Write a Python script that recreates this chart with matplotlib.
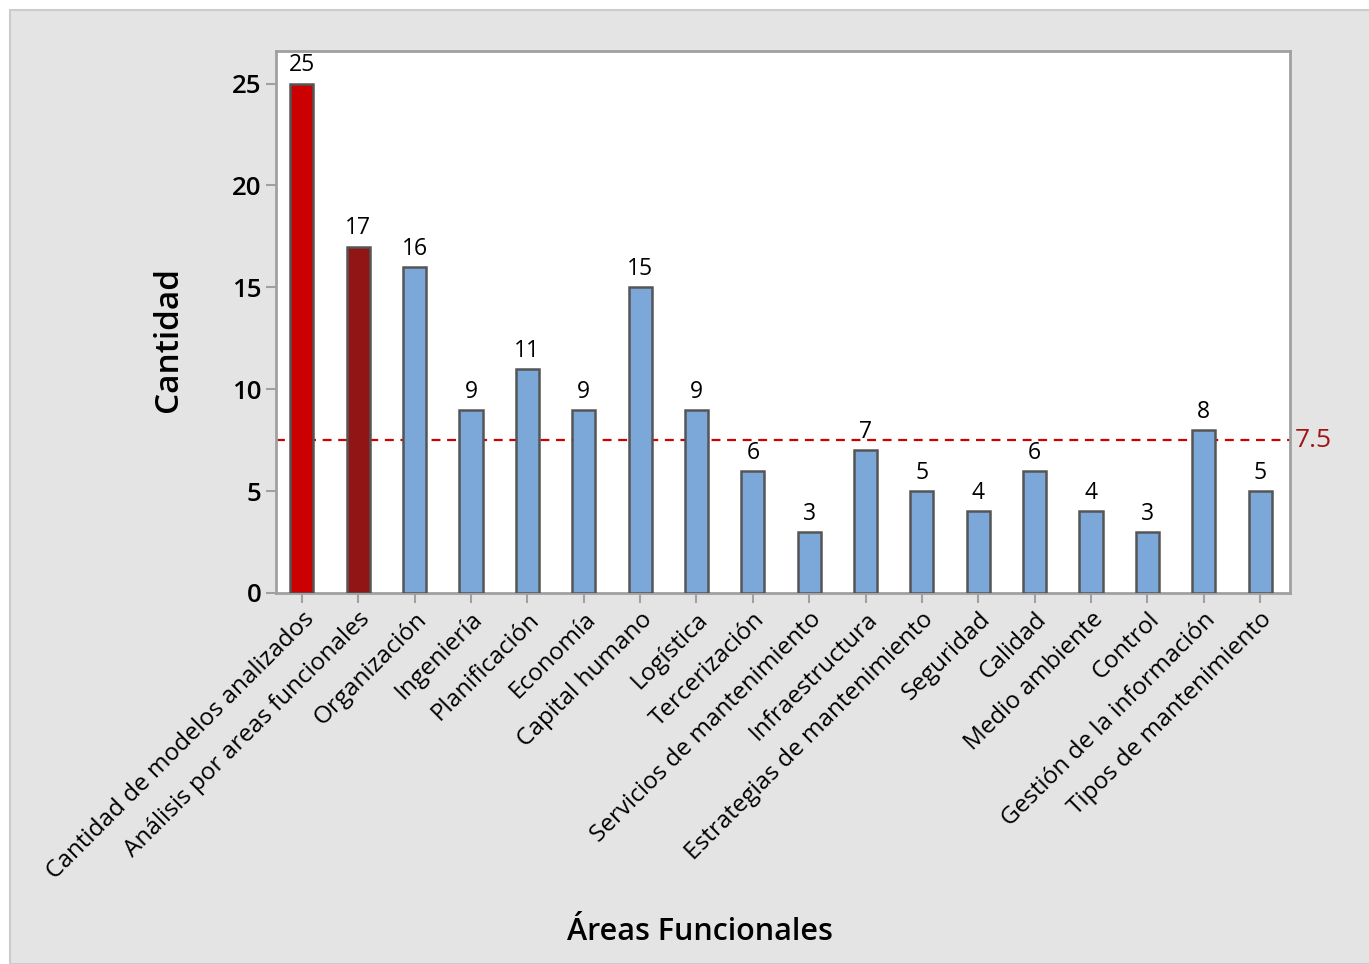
import numpy as np
import matplotlib.pyplot as plt
from matplotlib.patches import Rectangle

plt.rcParams['font.family'] = ['Open Sans', 'DejaVu Sans']

# categories and counts
areas = ['Cantidad de modelos analizados', 'Análisis por areas funcionales',
         'Organización', 'Ingeniería', 'Planificación', 'Economía',
         'Capital humano', 'Logística', 'Tercerización',
         'Servicios de mantenimiento', 'Infraestructura',
         'Estrategias de mantenimiento', 'Seguridad', 'Calidad',
         'Medio ambiente', 'Control', 'Gestión de la información',
         'Tipos de mantenimiento']
cantidad = [25, 17, 16, 9, 11, 9, 15, 9, 6, 3, 7, 5, 4, 6, 4, 3, 8, 5]
referencia = 7.5

colors = ['#cc0000', '#921515'] + ['#7ba7d9'] * (len(areas) - 2)

fig = plt.figure(figsize=(13.69, 9.64), dpi=100)
fig.patch.set_facecolor('white')
# gray panel behind the chart
fig.patches.append(Rectangle((10 / 1369, 0), 1.0, 1 - 10 / 964,
                             transform=fig.transFigure, facecolor='#e4e4e4',
                             edgecolor='#cccccc', linewidth=1.5, zorder=-10))

ax = fig.add_axes([276 / 1369, 1 - 593 / 964, (1290 - 276) / 1369, (593 - 51) / 964])
x = np.arange(len(areas))
ax.bar(x, cantidad, width=0.41, color=colors, edgecolor='#555555',
       linewidth=1.8, zorder=3)

for xi, v in zip(x, cantidad):
    ax.text(xi, v + 0.3, str(v), ha='center', va='bottom', fontsize=16.5,
            zorder=4)

ax.axhline(referencia, color='#cc0000', linestyle=(0, (4, 3)),
           linewidth=1.6, zorder=2)
ax.text(1.005, referencia, '7.5', transform=ax.get_yaxis_transform(),
        ha='left', va='center', color='#a01414', fontsize=19)

ax.set_xlim(-0.46, len(areas) - 0.47)
ax.set_ylim(0, 26.6)
ax.set_yticks([0, 5, 10, 15, 20, 25])
ax.set_xticks(x)
ax.set_xticklabels(areas, rotation=45, ha='right', rotation_mode='anchor',
                   fontsize=17.5)
ax.tick_params(axis='y', labelsize=18.5, length=7, width=1.5, color='#a0a0a0')
ax.tick_params(axis='x', length=7, width=1.5, color='#a0a0a0')
for lbl in ax.get_yticklabels():
    lbl.set_fontweight('semibold')
for s in ax.spines.values():
    s.set_color('#a0a0a0')
    s.set_linewidth(2)

ax.set_ylabel('Cantidad', fontsize=24, fontweight='semibold')
ax.yaxis.set_label_coords(-0.09, 0.467)
fig.text(700 / 1369, 1 - 932 / 964, 'Áreas Funcionales', ha='center',
         va='center', fontsize=22, fontweight='semibold')

fig.savefig('out.png', dpi=100)
